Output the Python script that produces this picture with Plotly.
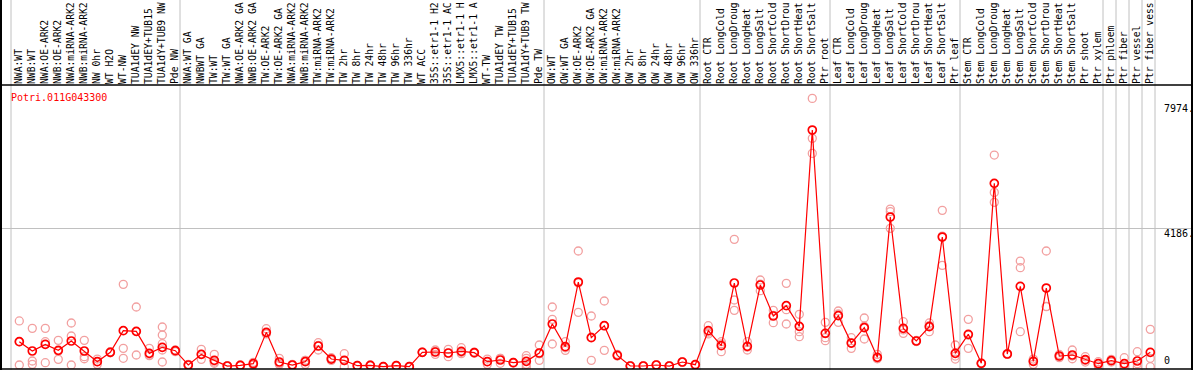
import plotly.graph_objects as go

gene = "Potri.011G043300"

# category labels as they appear (truncated at the top edge in the reference)
categories = [
    "NWA:WT", "NWB:WT", "NWA:OE-ARK2", "NWB:OE-ARK2", "NWA:miRNA-ARK2", "NWB:miRNA-ARK2",
    "NW 0hr", "WT H2O", "WT-NW", "TUA1dEY NW", "TUA1dEY+TUB15", "TUA1dY+TUB9 NW", "Pde NW",
    "NWA:WT GA", "NWBWT GA", "TW:WT", "TW:WT GA", "NWA:OE-ARK2 GA", "NWB:OE-ARK2 GA",
    "TW:OE-ARK2", "TW:OE-ARK2 GA", "NWA:miRNA-ARK2", "NWB:miRNA-ARK2", "TW:miRNA-ARK2",
    "TW:miRNA-ARK2", "TW 2hr", "TW 8hr", "TW 24hr", "TW 48hr", "TW 96hr", "TW 336hr",
    "WT ACC", "35S::etr1-1 H2", "35S::etr1-1 AC", "LMX5::etr1-1 H", "LMX5::etr1-1 A",
    "WT-TW", "TUA1dEY TW", "TUA1dEY+TUB15", "TUA1dY+TUB9 TW", "Pde TW",
    "OW:WT", "OW:WT GA", "OW:OE-ARK2", "OW:OE-ARK2 GA", "OW:miRNA-ARK2", "OW:miRNA-ARK2",
    "OW 2hr", "OW 8hr", "OW 24hr", "OW 48hr", "OW 96hr", "OW 336hr",
    "Root CTR", "Root LongCold", "Root LongDroug", "Root LongHeat", "Root LongSalt",
    "Root ShortCold", "Root ShortDrou", "Root ShortHeat", "Root ShortSalt", "Ptr root",
    "Leaf CTR", "Leaf LongCold", "Leaf LongDroug", "Leaf LongHeat", "Leaf LongSalt",
    "Leaf ShortCold", "Leaf ShortDrou", "Leaf ShortHeat", "Leaf ShortSalt", "Ptr leaf",
    "Stem CTR", "Stem LongCold", "Stem LongDroug", "Stem LongHeat", "Stem LongSalt",
    "Stem ShortCold", "Stem ShortDrou", "Stem ShortHeat", "Stem ShortSalt", "Ptr shoot",
    "Ptr xylem", "Ptr phloem", "Ptr fiber", "Ptr vessel", "Ptr fiber vess",
]

means = [
    765, 483, 684, 503, 785, 483, 161, 443, 1097, 1076, 412, 594, 493,
    60, 382, 201, 30, 50, 100, 1046, 151, 60, 161, 634, 241, 201, 40, 50, 10, 40, 10,
    443, 453, 423, 473, 433, 161, 211, 131, 171, 423,
    1298, 614, 2565, 885, 1247, 352, 30, 30, 60, 30, 151, 70,
    1097, 644, 2535, 624, 2475, 1539, 1851, 1227, 7153, 1016,
    1549, 724, 1187, 292, 4527, 1167, 785, 1217, 3923, 412,
    986, 111, 5543, 392, 2435, 171, 2384, 332, 362, 221,
    100, 191, 100, 181, 443,
]

replicates = [
    [1390, 760, 60], [1167, 181, 80], [1167, 765, 131], [805, 231, 480], [1328, 936, 60],
    [805, 312, 250], [241, 160, 80], [440, 430, 460], [2495, 563, 262], [1811, 362, 1070],
    [563, 362, 342], [1207, 966, 704, 513, 151], [513, 463, 500],
    [60, 40, 80], [533, 231, 380], [382, 111, 150], [30, 20, 40], [50, 40, 60],
    [141, 60, 100], [1157, 1016, 1000], [262, 80, 110], [60, 40, 80], [201, 80, 200],
    [734, 513, 650], [282, 200, 240], [402, 10, 190], [40, 30, 50], [50, 40, 60],
    [10, 5, 15], [40, 30, 50], [10, 5, 15],
    [443, 440, 450], [513, 382, 460], [533, 312, 420], [583, 402, 440], [450, 420, 430],
    [241, 80, 160], [260, 111, 260], [140, 120, 130], [342, 262, 80, 0], [664, 201, 400],
    [1811, 1439, 694], [765, 503, 580], [3501, 1650, 2540], [1539, 201, 900],
    [1992, 503, 1250], [382, 330, 350], [30, 20, 40], [30, 20, 40], [60, 50, 70],
    [30, 20, 40], [160, 140, 150], [70, 60, 80],
    [1247, 1000, 1050], [765, 463, 700], [3853, 2022, 1710], [765, 513, 600],
    [2626, 2304, 2500], [1710, 1338, 1560], [2525, 1298, 1730], [1590, 1066, 915],
    [8108, 6901, 6448], [1348, 885, 795],
    [1690, 1348, 1600], [885, 563, 720], [1479, 845, 1230], [382, 250, 260],
    [4768, 4688, 4185], [1368, 1016, 1120], [790, 770, 800], [1066, 1250, 1330],
    [4728, 3068, 3950], [664, 241, 330],
    [1439, 563, 960], [111, 100, 120], [6398, 5271, 4970], [410, 380, 390],
    [3199, 2998, 1066], [241, 80, 170], [3501, 1821, 1830], [282, 330, 380],
    [513, 330, 250], [312, 200, 150],
    [161, 30, 110], [231, 150, 190], [282, 0, 20], [463, 0, 100], [1137, 262, 10],
]

# group separators: index of first item of each group (last = after final item)
group_starts = [0, 13, 41, 53, 63, 73, 84, 85, 86, 87, 88]

ytick_vals = [0, 4186, 7974]
ytick_text = ["0", "4186.", "7974."]

FONT = "DejaVu Sans Mono"
W, H = 1194, 370
ML, MR, MT, MB = 1, 2, 85, 1
PX0, STEP = 19.3, 13.0  # pixel position of first item and spacing (for axis range)

xs = list(range(len(categories)))
rep_x, rep_y = [], []
for i, reps in enumerate(replicates):
    for v in reps:
        rep_x.append(i)
        rep_y.append(v)

fig = go.Figure()
fig.add_trace(go.Scatter(
    x=rep_x, y=rep_y, mode="markers",
    marker=dict(symbol="circle-open", size=8, color="#f2a0a0", line=dict(width=1.3, color="#f2a0a0")),
    hoverinfo="skip", showlegend=False,
))
fig.add_trace(go.Scatter(
    x=xs, y=means, mode="lines+markers",
    line=dict(color="#ff0000", width=1.2),
    marker=dict(symbol="circle-open", size=8, color="#ff0000", line=dict(width=1.7, color="#ff0000")),
    showlegend=False,
))

plot_w = W - ML - MR
plot_h = H - MT - MB
x_lo = (ML - PX0) / STEP
x_hi = (ML + plot_w - PX0) / STEP

shapes = []
for g in group_starts:
    xv = g - 8.3 / STEP
    shapes.append(dict(type="line", xref="x", yref="paper", x0=xv, x1=xv, y0=-0.01, y1=1.32,
                       line=dict(color="#c0c0c0", width=1), layer="below"))
# frame lines extending into header
shapes.append(dict(type="line", xref="paper", yref="paper", x0=0, x1=0, y0=-0.01, y1=1.32,
                   line=dict(color="black", width=2)))
shapes.append(dict(type="line", xref="paper", yref="paper", x0=1, x1=1, y0=-0.01, y1=1.32,
                   line=dict(color="black", width=2)))
shapes.append(dict(type="line", xref="paper", yref="paper", x0=0, x1=1, y0=1, y1=1,
                   line=dict(color="black", width=1.5)))
shapes.append(dict(type="line", xref="paper", yref="paper", x0=0, x1=1, y0=0, y1=0,
                   line=dict(color="black", width=1.5)))

annotations = [dict(text=gene, xref="paper", yref="paper", x=(9 - ML) / plot_w, y=(H - MB - 97) / plot_h,
                    xanchor="left", yanchor="middle", showarrow=False,
                    font=dict(family=FONT, size=10, color="#ff0000"))]
for v, t in zip(ytick_vals, ytick_text):
    annotations.append(dict(text=t, xref="paper", yref="y", x=(1162 - ML) / plot_w, y=v,
                            xanchor="left", yanchor="bottom" if v == 0 else "top",
                            yshift=-1 if v == 0 else 2,
                            showarrow=False, font=dict(family=FONT, size=10, color="black")))

fig.update_layout(
    width=W, height=H, template="none",
    margin=dict(l=ML, r=MR, t=MT, b=MB, pad=0),
    paper_bgcolor="white", plot_bgcolor="white",
    font=dict(family=FONT, size=10, color="black"),
    shapes=shapes, annotations=annotations,
    xaxis=dict(range=[x_lo, x_hi], side="top", tickmode="array", tickvals=xs, ticktext=categories,
               tickangle=-90, ticks="", showgrid=False, zeroline=False, showline=False,
               automargin=False, tickfont=dict(family=FONT, size=9.7, color="black"),
               ticklabelstandoff=0),
    yaxis=dict(range=[-60, 8512], tickmode="array", tickvals=[4186], showticklabels=False,
               showgrid=True, gridcolor="#c0c0c0", gridwidth=1, zeroline=False, showline=False,
               ticks="", automargin=False),
)

fig.write_html(
    "out.html",
    config={"displayModeBar": False},
    post_script="document.body.style.margin='0';document.body.style.overflow='hidden';",
)
